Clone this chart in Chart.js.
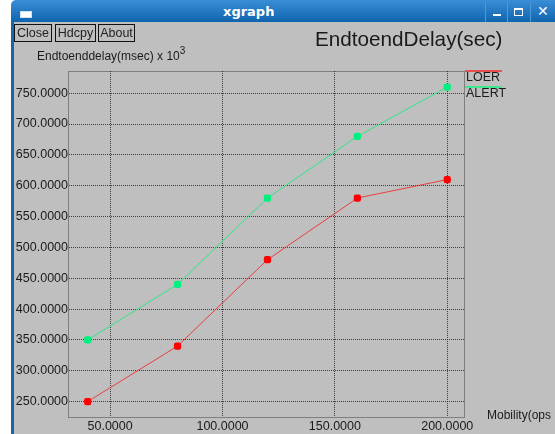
<!DOCTYPE html>
<html>
<head>
<meta charset="utf-8">
<script src="https://cdn.jsdelivr.net/npm/chart.js@4.4.0/dist/chart.umd.min.js"></script>
<style>
  html,body{margin:0;padding:0;background:#fff;}
  #win{position:absolute;left:0;top:0;width:555px;height:434px;overflow:hidden;font-family:"Liberation Sans",Arial,sans-serif;}
  #titlebar{position:absolute;left:11px;top:0;width:544px;height:22px;background:linear-gradient(#3a8ed6,#0f64ae);border-top-left-radius:5px;}
  #titlebar .t{position:absolute;left:212px;top:4px;color:#fff;font-weight:bold;font-size:13px;font-family:"DejaVu Sans",sans-serif;}
  #icon{position:absolute;left:9px;top:11px;width:10px;height:5px;background:#fff;border:1px solid #cfe0f0;}
  .wb{position:absolute;top:2px;height:20px;border-left:1px solid #4e9ad8;}
  #body{position:absolute;left:11px;top:22px;width:544px;height:412px;background:#bfbfbf;border-left:3px solid #1766a8;box-sizing:border-box;}
  .btn{position:absolute;top:24px;height:16px;border:1px solid #111;font-size:12.5px;line-height:16px;color:#222;text-align:center;box-sizing:content-box;}
  .txt{position:absolute;color:#1a1a1a;white-space:nowrap;}
  canvas{position:absolute;left:0;top:0;}
</style>
</head>
<body>
<div id="win">
  <div id="titlebar">
    <div id="icon"></div>
    <div class="t">xgraph</div>
    <div class="wb" style="left:474px;width:22px;"><div style="position:absolute;left:7px;top:12px;width:8px;height:2px;background:#fff"></div></div>
    <div class="wb" style="left:496px;width:22px;"><div style="position:absolute;left:6px;top:6px;width:7px;height:5px;border:1px solid #fff;border-top-width:2px"></div></div>
    <div class="wb" style="left:519px;width:25px;"><div style="position:absolute;left:6px;top:1px;color:#fff;font-weight:bold;font-size:14px;font-family:'DejaVu Sans',sans-serif">✕</div></div>
  </div>
  <div id="body"></div>
  <canvas id="c" width="555" height="434"></canvas>
  <div class="btn" style="left:14px;width:36px;">Close</div>
  <div class="btn" style="left:55px;width:39px;">Hdcpy</div>
  <div class="btn" style="left:98px;width:35px;">About</div>
  <div class="txt" style="left:37px;top:46px;font-size:12px;">Endtoenddelay(msec) x 10<sup style="font-size:10px;position:relative;top:-1px">3</sup></div>
  <div class="txt" style="left:315px;top:27px;font-size:20.7px;">EndtoendDelay(sec)</div>
  <div class="txt" style="left:487px;top:408px;font-size:12px;">Mobility(ops</div>
</div>
<script>
const xValues = [40, 80, 120, 160, 200];
const loer = [250, 340, 480, 580, 610];
const alert_ = [350, 440, 580, 680, 760];
const seriesNames = ["LOER", "ALERT"];
const xTicks = [50, 100, 150, 200];
const yTicks = [250, 300, 350, 400, 450, 500, 550, 600, 650, 700, 750];

const fmt = v => Number(v).toFixed(4);

const frame = {
  id: 'frame',
  afterDraw(chart) {
    const {ctx, chartArea: a} = chart;
    ctx.save();
    ctx.strokeStyle = 'rgba(40,40,40,0.85)';
    ctx.lineWidth = 1;
    ctx.setLineDash([1, 1]);
    ctx.strokeRect(Math.round(a.left) - 0.5, Math.round(a.top) + 0.5, Math.round(a.right - a.left), Math.round(a.bottom - a.top));
    ctx.setLineDash([]);
    const colors = ['#e85050', '#40e890'];
    ctx.font = '12.5px "Liberation Sans", Arial, sans-serif';
    ctx.fillStyle = '#1a1a1a';
    seriesNames.forEach((n, i) => {
      const y = 71 + i * 16;
      ctx.strokeStyle = colors[i];
      ctx.lineWidth = 2;
      ctx.beginPath(); ctx.moveTo(465, y); ctx.lineTo(502, y); ctx.stroke();
      ctx.fillText(n, 466, y + 10);
    });
    ctx.restore();
  }
};

new Chart(document.getElementById('c'), {
  type: 'line',
  data: {
    datasets: [
      { label: seriesNames[0], data: xValues.map((x, i) => ({x, y: loer[i]})),
        borderColor: 'rgba(240,40,40,0.85)', backgroundColor: '#ff0000', pointBackgroundColor: '#ff0000',
        pointBorderWidth: 0, borderWidth: 1, pointStyle: 'rectRounded', pointRadius: 4.2, tension: 0 },
      { label: seriesNames[1], data: xValues.map((x, i) => ({x, y: alert_[i]})),
        borderColor: 'rgba(30,235,130,0.9)', backgroundColor: '#00f080', pointBackgroundColor: '#00f080',
        pointBorderWidth: 0, borderWidth: 1, pointStyle: 'rectRounded', pointRadius: 4.2, tension: 0 }
    ]
  },
  options: {
    responsive: false,
    animation: false,
    layout: { padding: { left: 0, top: 71, right: 90, bottom: 0 } },
    plugins: { legend: { display: false }, tooltip: { enabled: false } },
    scales: {
      x: {
        type: 'linear', min: 31.7, max: 207.9,
        afterBuildTicks: s => { s.ticks = xTicks.map(v => ({value: v})); },
        afterFit: s => { s.height = 17; },
        ticks: { callback: fmt, color: '#1a1a1a', font: { size: 12.5, family: '"Liberation Sans", Arial, sans-serif' }, padding: 2, maxRotation: 0, autoSkip: false },
        grid: { color: 'rgba(30,30,30,0.8)', lineWidth: 1, drawTicks: false },
        border: { display: false, dash: [1, 1] }
      },
      y: {
        type: 'linear', min: 225, max: 786,
        afterBuildTicks: s => { s.ticks = yTicks.map(v => ({value: v})); },
        afterFit: s => { s.width = 69; },
        ticks: { callback: fmt, color: '#1a1a1a', font: { size: 12.5, family: '"Liberation Sans", Arial, sans-serif' }, padding: 1, autoSkip: false },
        grid: { color: 'rgba(30,30,30,0.8)', lineWidth: 1, drawTicks: false },
        border: { display: false, dash: [1, 1] }
      }
    }
  },
  plugins: [frame]
});
</script>
</body>
</html>
